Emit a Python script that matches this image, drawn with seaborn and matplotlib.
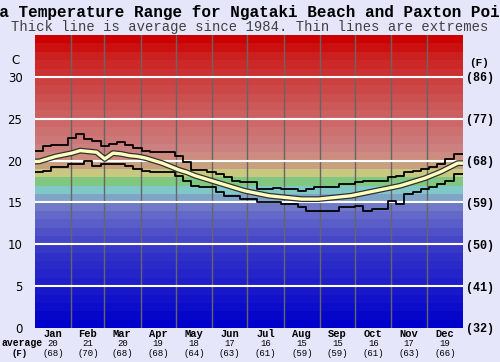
import numpy as np
import pandas as pd
import matplotlib
matplotlib.use('Agg')
import matplotlib.pyplot as plt
import matplotlib.patheffects as pe
import matplotlib.transforms as mtrans
import seaborn as sb

# data (sea temperature, deg C)
months = ['Jan', 'Feb', 'Mar', 'Apr', 'May', 'Jun',
          'Jul', 'Aug', 'Sep', 'Oct', 'Nov', 'Dec']
month_days = [31, 28, 31, 30, 31, 30, 31, 31, 30, 31, 30, 31]
month_avg_c = [20, 21, 20, 19, 18, 17, 16, 15, 15, 16, 17, 19]
month_avg_f = [68, 70, 68, 68, 64, 63, 61, 59, 59, 61, 63, 66]

weekly_max = [21.2, 21.8, 21.9, 21.9, 22.7, 23.2, 22.6, 22.4, 21.8, 22.0,
              22.2, 21.9, 21.5, 21.2, 21.0, 21.0, 21.0, 20.5, 19.8, 18.9,
              18.9, 18.6, 18.4, 18.1, 17.6, 17.5, 17.4, 16.6, 16.6, 16.7,
              16.6, 16.6, 16.4, 16.6, 16.8, 16.8, 16.9, 17.2, 17.2, 17.4,
              17.6, 17.6, 17.6, 18.0, 18.2, 18.6, 18.8, 19.0, 19.2, 19.6,
              20.2, 20.8]
weekly_min = [18.6, 18.8, 19.2, 19.2, 19.6, 19.6, 20.0, 19.4, 19.6, 19.6,
              19.6, 19.4, 19.0, 18.8, 18.6, 18.6, 18.6, 18.2, 17.6, 17.0,
              16.8, 16.8, 16.2, 15.8, 15.8, 15.4, 15.4, 15.0, 15.0, 15.0,
              14.8, 14.8, 14.4, 14.0, 14.0, 14.0, 14.0, 14.4, 14.4, 14.6,
              14.0, 14.2, 14.2, 15.2, 14.8, 16.0, 16.2, 16.6, 16.9, 17.2,
              17.6, 18.4]
weekly_avg = [19.9, 20.2, 20.5, 20.7, 20.9, 21.2, 21.1, 21.0, 20.2, 20.9,
              20.8, 20.6, 20.5, 20.3, 20.0, 19.7, 19.3, 18.9, 18.6, 18.2,
              17.9, 17.6, 17.3, 17.0, 16.7, 16.4, 16.2, 16.0, 15.8, 15.7,
              15.6, 15.5, 15.4, 15.4, 15.4, 15.5, 15.6, 15.7, 15.8, 16.0,
              16.2, 16.4, 16.6, 16.8, 17.0, 17.3, 17.6, 17.9, 18.3, 18.7,
              19.2, 19.7]

# one colour per 1 degree band, 0..35 C
band_colors = ['#0000cc', '#0606cb', '#0c0ccb', '#1212ca', '#1818ca',
               '#1e1eca', '#2424c9', '#2a2ac9', '#3030c9', '#3838c8',
               '#4646c8', '#5050c8', '#5a5ec8', '#6468c8', '#7078c8',
               '#80a4c8', '#80c8c8', '#80c880', '#c8c880', '#c8a080',
               '#cc8c80', '#cc8080', '#cc7878', '#cc7070', '#cc6868',
               '#cc6060', '#cc5858', '#cc5050', '#cc4848', '#cc4040',
               '#cc3030', '#cc2828', '#cc2020', '#cc1010', '#cc0000']

bg = '#e6e6fa'
fig = plt.figure(figsize=(5.0, 3.62), dpi=100, facecolor=bg)
ax = fig.add_axes([0.07, 0.094, 0.856, 0.809])

for lo, col in enumerate(band_colors):
    ax.axhspan(lo, lo + 1, color=col, lw=0, zorder=0)

bounds = np.cumsum([0] + month_days)
for b in bounds[1:-1]:
    ax.axvline(b, color='#666666', lw=1, zorder=1)
for t in range(5, 35, 5):
    ax.axhline(t, color='white', lw=1.5, zorder=1)

df = pd.DataFrame({'day': np.arange(len(weekly_avg)) * 7 + 3.5,
                   'max': weekly_max, 'min': weekly_min, 'avg': weekly_avg})
# stretch the first and last week out to the edges of the year
edges = pd.concat([df.iloc[[0]].assign(day=0.0), df,
                   df.iloc[[-1]].assign(day=float(bounds[-1]))])

for col in ['max', 'min']:
    sb.lineplot(data=edges, x='day', y=col, ax=ax, color='black', lw=1.3,
                drawstyle='steps-mid', estimator=None, zorder=3)
sb.lineplot(data=edges, x='day', y='avg', ax=ax, color='#ffffc0', lw=2.4,
            estimator=None, zorder=4,
            path_effects=[pe.Stroke(linewidth=4.2, foreground='#303030'), pe.Normal()])

ax.set_xlim(0, bounds[-1])
ax.set_ylim(0, 35)
for s in ax.spines.values():
    s.set_visible(False)
ax.set_xlabel('')
ax.set_ylabel('')
ax.set_xticks([])
ticks = list(range(0, 35, 5))
ax.set_yticks(ticks)
ax.set_yticklabels([str(t) for t in ticks], fontsize=8.5, family='DejaVu Sans')
ax.tick_params(axis='y', length=0, pad=9)

ax2 = ax.twinx()
ax2.set_ylim(0, 35)
ax2.set_yticks(ticks)
ax2.set_yticklabels(['(%d)' % round(t * 9 / 5 + 32) for t in ticks],
                    fontsize=8.5, family='Liberation Mono', weight='bold')
ax2.tick_params(axis='y', length=0, pad=2)
for s in ax2.spines.values():
    s.set_visible(False)

ax.text(-0.045, 0.915, 'C', transform=ax.transAxes, ha='center', va='center',
        fontsize=8.5, family='DejaVu Sans')
ax.text(1.038, 0.905, '(F)', transform=ax.transAxes, ha='center', va='center',
        fontsize=8, family='Liberation Mono', weight='bold')

# month labels with average C and F under the plot
trans = mtrans.blended_transform_factory(ax.transData, fig.transFigure)
mids = (bounds[:-1] + bounds[1:]) / 2
for m, x, c, f in zip(months, mids, month_avg_c, month_avg_f):
    ax.text(x, 1 - 334 / 362, m, transform=trans, ha='center', va='center',
            fontsize=7.5, family='Liberation Mono', weight='bold')
    ax.text(x, 1 - 343.5 / 362, str(c), transform=trans, ha='center', va='center',
            fontsize=6.5, family='Liberation Mono')
    ax.text(x, 1 - 353 / 362, '(%d)' % f, transform=trans,
            ha='center', va='center', fontsize=6.5, family='Liberation Mono')
fig.text(22 / 500, 1 - 343.5 / 362, 'average', ha='center', va='center',
         fontsize=7, family='Liberation Mono', weight='bold')
fig.text(20 / 500, 1 - 353 / 362, '(F)', ha='center', va='center',
         fontsize=6.5, family='Liberation Mono', weight='bold')

fig.text(0.5, 1 - 12.5 / 362,
         'Sea Temperature Range for Ngataki Beach and Paxton Point',
         ha='center', va='center', fontsize=11.5, family='Liberation Mono',
         weight='bold')
fig.text(0.5, 1 - 27.5 / 362,
         'Thick line is average since 1984. Thin lines are extremes',
         ha='center', va='center', fontsize=10, family='Liberation Mono',
         color='#404040')

fig.savefig('out.png', dpi=100, facecolor=bg)
